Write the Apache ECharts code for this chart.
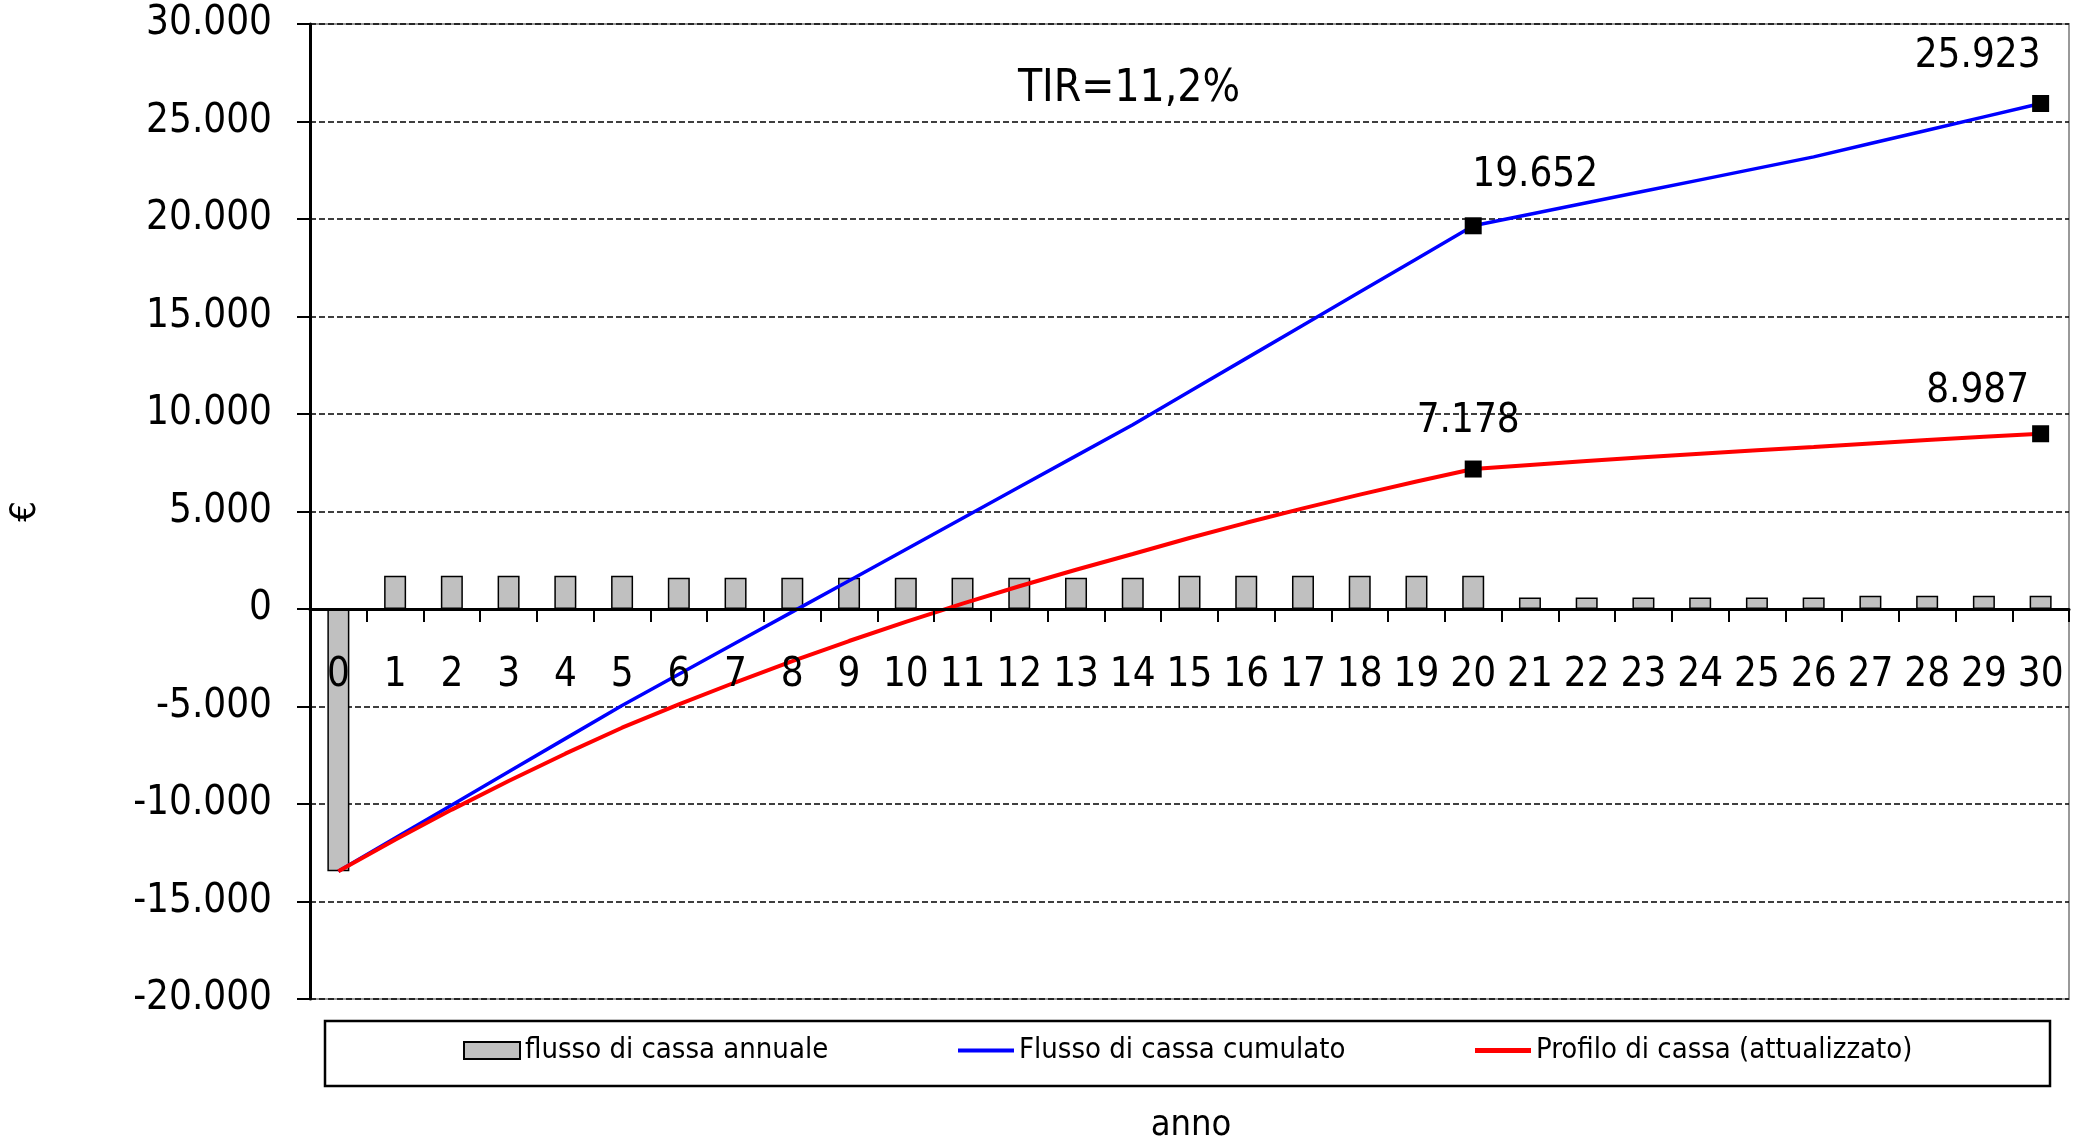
<!DOCTYPE html>
<html>
<head>
<meta charset="utf-8">
<title>Flusso di cassa</title>
<script src="https://cdn.jsdelivr.net/npm/echarts@6/dist/echarts.min.js"></script>
<style>
  html, body { margin: 0; padding: 0; background: #fff; }
  #chart { width: 2087px; height: 1144px; }
</style>
</head>
<body>
<div id="chart"></div>
<script>
  // anni
  var anni = ['0', '1', '2', '3', '4', '5', '6', '7', '8', '9', '10',
    '11', '12', '13', '14', '15', '16', '17', '18', '19', '20',
    '21', '22', '23', '24', '25', '26', '27', '28', '29', '30'];
  // flusso di cassa annuale
  var flussoAnnuale = [-13448, 1700, 1700, 1700, 1700, 1700, 1600, 1600, 1600, 1600, 1600,
    1600, 1600, 1600, 1600, 1700, 1700, 1700, 1700, 1700, 1700,
    589, 589, 589, 589, 589, 589, 684, 684, 684, 684];
  // flusso di cassa cumulato
  var flussoCumulato = [-13448, -11748, -10048, -8348, -6648, -4948, -3348, -1748, -148, 1452, 3052,
    4652, 6252, 7852, 9452, 11152, 12852, 14552, 16252, 17952, 19652,
    20241, 20830, 21419, 22008, 22597, 23186, 23870, 24554, 25238, 25923];
  // profilo di cassa attualizzato
  var profiloAttualizzato = [-13448, -11829, -10287, -8818, -7420, -6088, -4894, -3757, -2674, -1642, -660,
    276, 1167, 2015, 2823, 3641, 4420, 5162, 5868, 6541, 7178,
    7389, 7591, 7782, 7965, 8139, 8304, 8488, 8662, 8828, 8987];
  // punti evidenziati (indice anno)
  var puntiEvidenziati = [20, 30];
  var yTicks = { min: -20000, max: 30000, interval: 5000 };

  var FONT = "'DejaVu Sans Condensed', 'Liberation Sans', sans-serif";

  // griglia: top 24, altezza 975 -> lo zero sta a 609, il fondo a 999
  var GRID_TOP = 24, GRID_BOTTOM = 145;
  var plotH = 1144 - GRID_TOP - GRID_BOTTOM;
  // distanza dello zero dal fondo della griglia
  var zeroShift = plotH * (0 - yTicks.min) / (yTicks.max - yTicks.min);

  //formato italiano 25.923
  function fmt(v) {
    var s = String(Math.abs(Math.round(v))).replace(/\B(?=(\d{3})+(?!\d))/g, '.');
    return (v < 0 ? '-' : '') + s;
  }

  //offset etichette rispetto al quadratino
  var offsets = {
    cum: { 20: [62, -50], 30: [-63, -47] },
    att: { 20: [-5, -47], 30: [-63, -42] }
  };

  function conMarcatori(values, key) {
    return values.map(function (v, i) {
      if (puntiEvidenziati.indexOf(i) < 0) return v;
      return {
        value: v,
        symbol: 'rect',
        symbolSize: 17,
        itemStyle: { color: '#000' },
        label: {
          show: true,
          position: 'inside',
          offset: offsets[key][i],
          formatter: function (p) { return fmt(p.value); },
          color: '#000',
          fontFamily: FONT,
          fontSize: 40
        }
      };
    });
  }

  var chart = echarts.init(document.getElementById('chart'), null, { renderer: 'canvas' });

  var legendBase = {
    top: 1036,
    padding: 0,
    itemWidth: 56,
    itemGap: 8,
    textStyle: { color: '#000', fontFamily: FONT, fontSize: 29 }
  };

  chart.setOption({
    backgroundColor: '#fff',
    animation: false,
    textStyle: { fontFamily: FONT },
    grid: {
      left: 310, right: 18, top: GRID_TOP, bottom: GRID_BOTTOM,
      show: true, borderColor: '#999', borderWidth: 2, backgroundColor: 'transparent'
    },
    legend: [
      Object.assign({}, legendBase, {
        left: 463, itemHeight: 17, icon: 'rect',
        data: [{ name: 'flusso di cassa annuale', itemStyle: { color: '#c0c0c0', borderColor: '#000', borderWidth: 2 } }]
      }),
      Object.assign({}, legendBase, {
        left: 958, data: ['Flusso di cassa cumulato'], itemHeight: 4, icon: 'rect'
      }),
      Object.assign({}, legendBase, {
        left: 1475, data: ['Profilo di cassa (attualizzato)'], itemHeight: 5, icon: 'rect'
      })
    ],
    xAxis: {
      type: 'category',
      data: anni,
      boundaryGap: true,
      position: 'bottom',
      // spostato sulla linea dello zero
      offset: -zeroShift,
      z: 5,
      axisLine: { onZero: false, lineStyle: { color: '#000', width: 3 } },
      axisTick: { show: true, length: 13, lineStyle: { color: '#000', width: 2 } },
      axisLabel: { margin: 47, color: '#000', fontFamily: FONT, fontSize: 40, interval: 0 },
      splitLine: { show: false }
    },
    yAxis: {
      type: 'value',
      min: yTicks.min,
      max: yTicks.max,
      interval: yTicks.interval,
      name: '€',
      nameLocation: 'middle',
      nameGap: 266,
      nameRotate: 90,
      nameTextStyle: { color: '#000', fontFamily: FONT, fontSize: 36 },
      axisLine: { show: true, lineStyle: { color: '#000', width: 3 } },
      axisTick: { show: true, length: 13, lineStyle: { color: '#000', width: 2 } },
      axisLabel: {
        margin: 38, color: '#000', fontFamily: FONT, fontSize: 40,
        formatter: function (v) { return fmt(v); }
      },
      splitLine: { show: true, lineStyle: { color: '#000', type: [6, 3], width: 1.5 } }
    },
    graphic: [
      {
        type: 'rect',
        shape: { x: 325, y: 1021, width: 1725, height: 65 },
        style: { fill: 'none', stroke: '#000', lineWidth: 2.5 },
        z: -1
      },
      {
        type: 'text',
        x: 1129, y: 90,
        style: {
          text: 'TIR=11,2%', fill: '#000', font: '44px ' + FONT,
          textAlign: 'center', textVerticalAlign: 'middle'
        }
      },
      {
        type: 'text',
        x: 1191, y: 1126,
        style: {
          text: 'anno', fill: '#000', font: '36px ' + FONT,
          textAlign: 'center', textVerticalAlign: 'middle'
        }
      }
    ],
    series: [
      {
        name: 'flusso di cassa annuale',
        type: 'bar',
        data: flussoAnnuale,
        barWidth: 22,
        itemStyle: { color: '#c0c0c0', borderColor: '#000', borderWidth: 1.5 }
      },
      {
        name: 'Flusso di cassa cumulato',
        type: 'line',
        data: conMarcatori(flussoCumulato, 'cum'),
        symbol: 'none',
        color: '#0000ff',
        lineStyle: { color: '#0000ff', width: 3.5 },
        z: 3
      },
      {
        name: 'Profilo di cassa (attualizzato)',
        type: 'line',
        data: conMarcatori(profiloAttualizzato, 'att'),
        symbol: 'none',
        color: '#ff0000',
        lineStyle: { color: '#ff0000', width: 4 },
        z: 3
      }
    ]
  });
</script>
</body>
</html>
